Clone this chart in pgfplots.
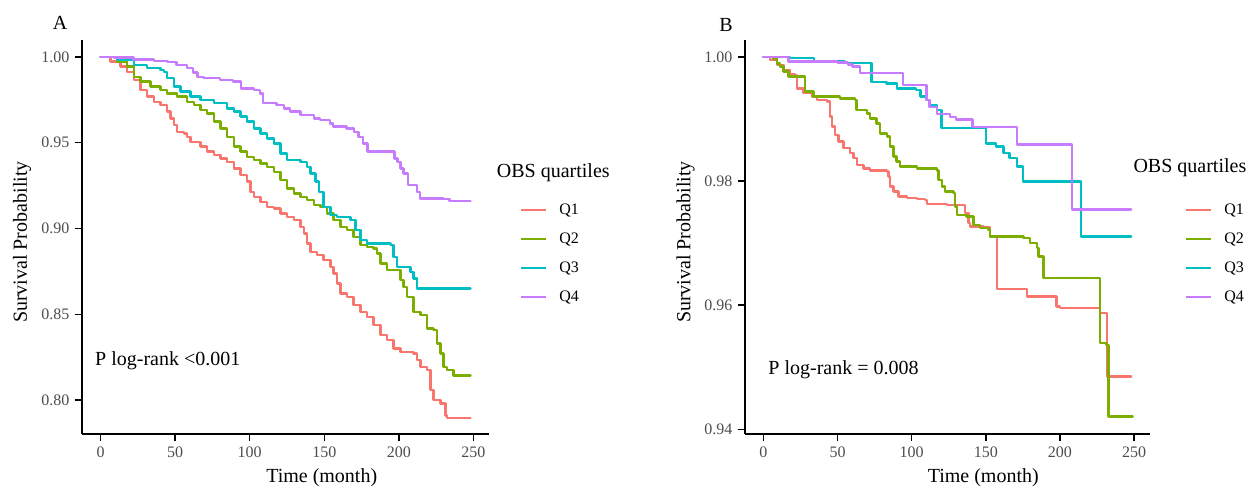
\documentclass[border=0pt]{standalone}
\usepackage{pgfplots}
\pgfplotsset{compat=1.18}
\usepackage{fontspec}
\setmainfont{Liberation Serif}
\definecolor{cQ1}{HTML}{F8766D}
\definecolor{cQ2}{HTML}{7CAE00}
\definecolor{cQ3}{HTML}{00BFC4}
\definecolor{cQ4}{HTML}{C77CFF}
\definecolor{tickgrey}{HTML}{4D4D4D}
\newcommand\tickfont{\fontsize{16}{19}\selectfont}
\newcommand\titlefont{\fontsize{20}{24}\selectfont}
\pgfplotsset{
  km/.style={
    scale only axis, height=394pt,
    axis lines=left, axis line style={-, line width=1.5pt, black},
    tick align=outside, major tick length=7pt,
    tick style={line width=1.5pt, black},
    xmin=-12.4, xmax=260.4, xtick={0,50,100,150,200,250},
    ticklabel style={font=\tickfont, text=tickgrey},
    xticklabel style={yshift=-2pt},
    yticklabel style={xshift=-2pt},
    /pgf/number format/assume math mode=true,
    yticklabel style={/pgf/number format/.cd, fixed, fixed zerofill, precision=2},
    xlabel={Time (month)}, ylabel={Survival Probability},
    label style={font=\titlefont},
    xlabel style={at={(axis description cs:0.589,-0.1231)}, anchor=base},
    ylabel style={at={(axis description cs:-0.147,0.487)}, anchor=center},
    const plot, no marks,
    every axis plot/.append style={line width=2.4pt, line join=round, line cap=round},
    clip=false,
    legend cell align=left,
    legend style={draw=none, fill=none, inner sep=0pt, row sep=13pt,
      font=\tickfont, anchor=north west,
      nodes={inner sep=0pt, text height=12pt, text depth=4pt}},
    legend image code/.code={\draw[##1, line width=2.4pt, line cap=butt] (0pt,0pt) -- (25pt,0pt); \draw[draw=none] (25pt,0pt) -- (38pt,0pt);},
  }
}
\begin{document}
\begin{tikzpicture}
\useasboundingbox (0,0) rectangle (1260pt,487pt);
% ---------------- Panel A ----------------
\begin{axis}[km, at={(82pt,53pt)}, anchor=south west, width=407pt,
  ymin=0.7802, ymax=1.0099, ytick={0.80,0.85,0.90,0.95,1.00},
  legend style={at={(axis description cs:1.076,0.5888)}}]
\addplot[cQ1] coordinates {(0,1.0)(6.7,0.9973)(13.4,0.9944)(17.9,0.9914)(22.3,0.9866)(26.8,0.9807)(31.3,0.9769)(35.7,0.9739)(40.2,0.972)(44.7,0.9681)(46.9,0.9642)(49.1,0.9603)(51.4,0.9564)(55.8,0.9555)(58.1,0.9535)(60.3,0.9506)(67,0.9477)(71.5,0.9448)(75.9,0.9428)(80.4,0.9409)(84.9,0.9389)(89.3,0.935)(93.8,0.9311)(98.3,0.9273)(100.5,0.9214)(102.7,0.9185)(107.2,0.9156)(111.7,0.9127)(116.1,0.9117)(120.6,0.9088)(125.1,0.9068)(129.5,0.9049)(134,0.901)(136.2,0.8971)(138.5,0.8913)(140.7,0.8864)(145.2,0.8845)(149.6,0.8816)(154.1,0.8777)(156.3,0.8738)(158.6,0.868)(160.8,0.8621)(165.3,0.8602)(169.7,0.8553)(174.2,0.8514)(178.7,0.8485)(183.1,0.8436)(187.6,0.8378)(192.1,0.8349)(196.5,0.83)(201,0.8281)(209.9,0.8271)(212.2,0.8232)(214.4,0.8193)(218.9,0.8174)(221.1,0.8057)(223.3,0.7999)(227.8,0.798)(231.2,0.7911)(232.3,0.7897)(248,0.7897)};
\addlegendentry{Q1}
\addplot[cQ2] coordinates {(0,1.0)(11.2,0.9973)(17.9,0.9944)(22.3,0.9885)(26.8,0.9856)(33.5,0.9827)(40.2,0.9807)(44.7,0.9788)(51.4,0.9769)(58.1,0.9739)(62.5,0.972)(67,0.9691)(71.5,0.9671)(75.9,0.9623)(80.4,0.9584)(84.9,0.9535)(89.3,0.9477)(93.8,0.9448)(98.3,0.9418)(102.7,0.940)(107.2,0.938)(111.7,0.936)(116.1,0.9331)(120.6,0.9282)(125.1,0.9234)(129.5,0.9205)(134,0.9185)(138.5,0.9166)(142.9,0.9136)(147.4,0.9127)(151.9,0.9088)(156.3,0.9049)(160.8,0.901)(165.3,0.899)(169.7,0.8952)(174.2,0.8903)(178.7,0.8893)(183.1,0.8884)(185.4,0.8854)(187.6,0.8796)(192.1,0.8757)(201,0.8699)(203.2,0.866)(205.5,0.8602)(209.9,0.8514)(214.4,0.8495)(218.9,0.8417)(223.3,0.8407)(225.6,0.8329)(227.8,0.8271)(230,0.8193)(232.3,0.8174)(236.7,0.8144)(248,0.8144)};
\addlegendentry{Q2}
\addplot[cQ3] coordinates {(0,1.0)(11.2,0.9982)(22.3,0.9953)(31.3,0.9934)(40.2,0.9924)(42.4,0.9914)(44.7,0.9876)(49.1,0.9827)(53.6,0.9798)(60.3,0.9769)(67,0.9749)(75.9,0.973)(84.9,0.970)(89.3,0.9681)(93.8,0.9652)(98.3,0.9623)(102.7,0.9584)(107.2,0.9555)(111.7,0.9525)(116.1,0.9496)(120.6,0.9438)(125.1,0.940)(134,0.9389)(138.5,0.936)(140.7,0.9321)(144,0.9273)(146.3,0.9214)(149.6,0.9127)(154.1,0.9078)(158.6,0.9068)(167.5,0.9049)(170.9,0.899)(174.2,0.8932)(178.7,0.8913)(194.3,0.8903)(196.5,0.8835)(198.8,0.8777)(207.7,0.8747)(209.9,0.8709)(212.2,0.865)(248,0.865)};
\addlegendentry{Q3}
\addplot[cQ4] coordinates {(0,1.0)(9,0.9996)(22,0.9986)(36,0.9977)(45,0.9970)(51,0.9953)(58,0.9934)(62,0.991)(65,0.9885)(69,0.9876)(80,0.9866)(89,0.9856)(94,0.9817)(103,0.9807)(107,0.9788)(109,0.973)(118,0.972)(123,0.970)(127,0.9681)(134,0.9662)(143,0.9642)(147,0.9632)(154,0.9613)(156,0.9594)(165,0.9584)(170,0.9564)(173,0.9535)(176,0.9496)(179,0.9448)(197,0.9409)(199,0.9389)(201,0.935)(203,0.9321)(206,0.9253)(212,0.9214)(214,0.9175)(230,0.9171)(234,0.916)(248,0.916)};
\addlegendentry{Q4}
\node[font=\titlefont, anchor=west, inner sep=0pt] at (axis description cs:1.019,0.6624) {OBS quartiles};
\node[font=\titlefont, anchor=base, inner sep=0pt] at (axis description cs:-0.054,1.0254) {A};
\node[font=\titlefont, anchor=base west, inner sep=0pt] at (axis cs:-3.7,0.8204) {P log-rank <0.001};
\end{axis}
% ---------------- Panel B ----------------
\begin{axis}[km, at={(745pt,53pt)}, anchor=south west, width=404.5pt,
  ymin=0.93924, ymax=1.00274, ytick={0.94,0.96,0.98,1.00},
  legend style={at={(axis description cs:1.0878,0.5888)}}]
\addplot[cQ1] coordinates {(0,1.0)(4.5,0.99952)(9,0.99871)(13.5,0.99791)(18,0.99726)(21.4,0.9971)(22.5,0.99495)(27,0.99415)(32.6,0.99361)(36,0.99307)(42.7,0.9928)(45,0.99039)(46.1,0.98878)(48.3,0.98743)(50.6,0.98636)(54,0.98529)(58.5,0.98448)(60.7,0.98368)(63,0.9826)(67.4,0.98206)(71.9,0.98169)(83.2,0.98153)(84.3,0.98072)(85.4,0.97911)(87.7,0.97831)(91,0.9775)(96.7,0.97723)(103.4,0.97707)(109,0.97696)(110.2,0.97632)(123.7,0.97616)(136,0.97481)(138.3,0.9732)(139.4,0.97267)(148.4,0.97256)(152.9,0.97106)(157.4,0.96257)(177.6,0.96139)(197.8,0.95978)(200.1,0.95951)(227,0.9587)(231.6,0.9485)(248,0.9485)};
\addlegendentry{Q1}
\addplot[cQ2] coordinates {(0,1.0)(6.7,0.99979)(9,0.99898)(11.2,0.99844)(13.5,0.99764)(16.9,0.99683)(28.1,0.99442)(33.7,0.99361)(51.7,0.99334)(61.8,0.99307)(62.9,0.99146)(69.7,0.99092)(71.9,0.99012)(76.4,0.98931)(78.7,0.9877)(83.2,0.98717)(85.4,0.98555)(87.7,0.98394)(89.9,0.98314)(92.2,0.98233)(103.4,0.98206)(116.9,0.98169)(118,0.98018)(120.3,0.97911)(122.5,0.97831)(128.1,0.97804)(129.3,0.97589)(130.4,0.97455)(137.1,0.97428)(141.6,0.97294)(146.1,0.9724)(151.8,0.97213)(152.9,0.97106)(175.4,0.97079)(179.9,0.96998)(184.4,0.96918)(185.5,0.96783)(188.8,0.96434)(227.1,0.95387)(231.5,0.9536)(232.7,0.94206)(249,0.94206)};
\addlegendentry{Q2}
\addplot[cQ3] coordinates {(0,1.0)(18,0.9998)(34,0.99925)(55,0.999)(73,0.996)(83,0.99576)(90,0.99495)(103,0.99468)(106,0.99361)(110,0.99307)(112,0.99227)(117,0.99146)(120,0.98851)(150,0.98609)(157,0.98555)(162,0.98448)(166,0.98368)(171,0.98233)(175,0.97992)(214,0.97106)(248,0.97106)};
\addlegendentry{Q3}
\addplot[cQ4] coordinates {(0,1.0)(17,0.9993)(50,0.9991)(57,0.9988)(60,0.9985)(65,0.9974)(94,0.9955)(110,0.9931)(112,0.9919)(117,0.9908)(126,0.9903)(130,0.9899)(141,0.9887)(171,0.9859)(208,0.9754)(248,0.9754)};
\addlegendentry{Q4}
\node[font=\titlefont, anchor=west, inner sep=0pt] at (axis description cs:0.96,0.6764) {OBS quartiles};
\node[font=\titlefont, anchor=base, inner sep=0pt] at (axis description cs:-0.047,1.0228) {B};
\node[font=\titlefont, anchor=base west, inner sep=0pt] at (axis cs:3.3,0.94875) {P log-rank = 0.008};
\end{axis}
\end{tikzpicture}
\end{document}
